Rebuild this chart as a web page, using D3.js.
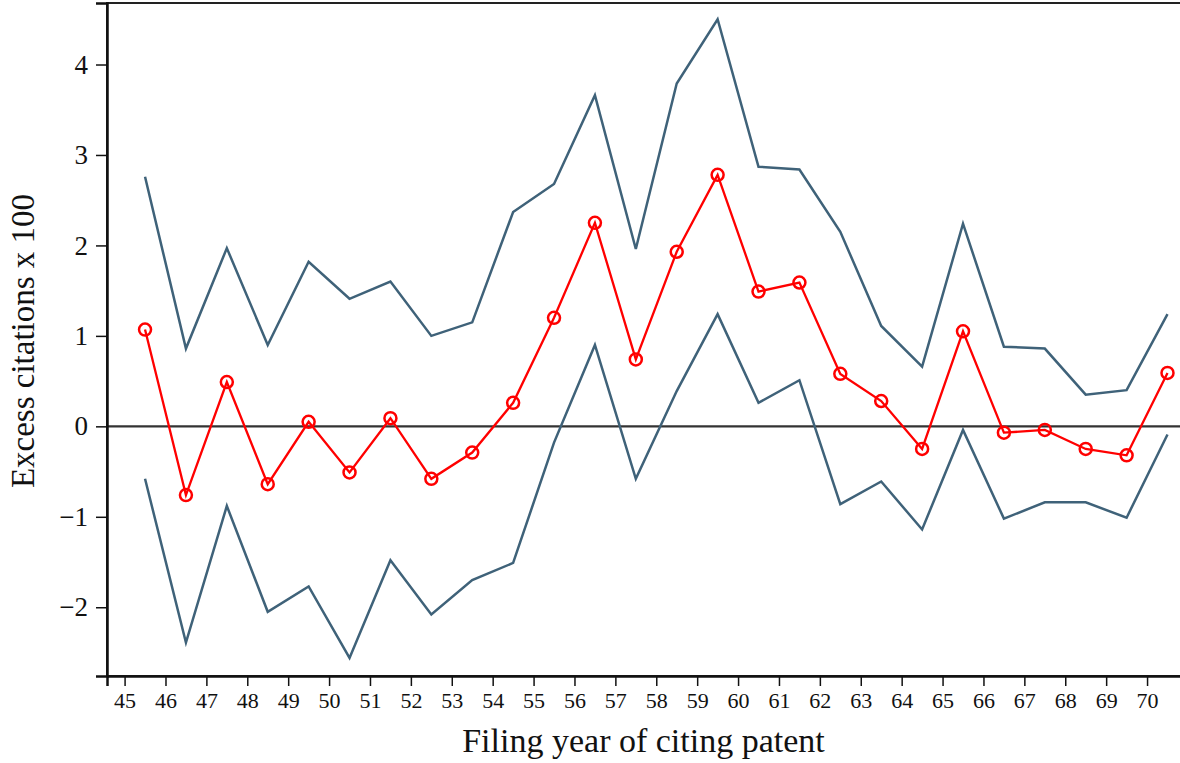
<!DOCTYPE html>
<html>
<head>
<meta charset="utf-8">
<script src="https://cdn.jsdelivr.net/npm/d3@7"></script>
<style>
  body { margin: 0; background: #fff; }
  svg text { font-family: "Liberation Serif", "DejaVu Serif", serif; fill: #111; }
</style>
</head>
<body>
<svg id="chart" width="1180" height="763"></svg>
<script>
const years = [45.5,46.5,47.5,48.5,49.5,50.5,51.5,52.5,53.5,54.5,55.5,56.5,57.5,58.5,59.5,60.5,61.5,62.5,63.5,64.5,65.5,66.5,67.5,68.5,69.5,70.5];
const estimate = [1.07,-0.76,0.49,-0.64,0.05,-0.51,0.09,-0.58,-0.29,0.26,1.20,2.25,0.74,1.93,2.78,1.49,1.59,0.58,0.28,-0.25,1.05,-0.07,-0.04,-0.25,-0.32,0.59];
const upper = [2.76,0.86,1.97,0.90,1.82,1.41,1.60,1.00,1.15,2.37,2.68,3.66,1.96,3.79,4.50,2.87,2.84,2.15,1.11,0.66,2.24,0.88,0.86,0.35,0.40,1.24];
const lower = [-0.58,-2.39,-0.88,-2.05,-1.77,-2.56,-1.48,-2.08,-1.70,-1.51,-0.18,0.90,-0.58,0.39,1.24,0.26,0.51,-0.86,-0.61,-1.14,-0.04,-1.02,-0.84,-0.84,-1.01,-0.09];
const xTicks = d3.range(45, 71);
const yTicks = [-2,-1,0,1,2,3,4];

const svg = d3.select("#chart");
const L = 107, R = 1181, T = 3, B = 676;
const x = d3.scaleLinear().domain([44.57, 70.83]).range([L, R]);
const y = d3.scaleLinear().domain([-2.76, 4.68]).range([B, T]);

// frame
svg.append("rect").attr("x", L).attr("y", T).attr("width", R - L).attr("height", B - T)
  .attr("fill", "none").attr("stroke", "#222").attr("stroke-width", 2);

// zero line
svg.append("line").attr("x1", L).attr("x2", R).attr("y1", y(0)).attr("y2", y(0))
  .attr("stroke", "#333").attr("stroke-width", 2.3);

// axes
const xAxis = svg.append("g").attr("transform", `translate(0,${B})`)
  .call(d3.axisBottom(x).tickValues(xTicks).tickFormat(d3.format("d")).tickSize(10).tickPadding(6));
xAxis.select(".domain").attr("stroke", "#111").attr("stroke-width", 2.5);
xAxis.selectAll(".tick line").attr("stroke", "#111").attr("stroke-width", 1.5);
xAxis.selectAll(".tick text").attr("font-size", 22).attr("font-family", "Liberation Serif").attr("fill", "#111");

const yAxis = svg.append("g").attr("transform", `translate(${L},0)`)
  .call(d3.axisLeft(y).tickValues(yTicks).tickFormat(d => d < 0 ? "\u2212" + Math.abs(d) : String(d)).tickSize(11).tickPadding(8));
yAxis.select(".domain").attr("stroke", "#111").attr("stroke-width", 2.5);
yAxis.selectAll(".tick line").attr("stroke", "#111").attr("stroke-width", 1.5);
yAxis.selectAll(".tick text").attr("font-size", 27).attr("font-family", "Liberation Serif").attr("fill", "#111");

// bounds
const line = d3.line().x((d, i) => x(years[i])).y(d => y(d));
svg.append("path").datum(upper).attr("d", line).attr("fill", "none").attr("stroke", "#3f6279").attr("stroke-width", 2.5);
svg.append("path").datum(lower).attr("d", line).attr("fill", "none").attr("stroke", "#3f6279").attr("stroke-width", 2.5);

// estimate
svg.append("path").datum(estimate).attr("d", line).attr("fill", "none").attr("stroke", "#ff0000").attr("stroke-width", 2.3);
svg.selectAll("circle.pt").data(estimate).enter().append("circle")
  .attr("class", "pt").attr("cx", (d, i) => x(years[i])).attr("cy", d => y(d)).attr("r", 6)
  .attr("fill", "none").attr("stroke", "#ff0000").attr("stroke-width", 2.5);

// titles
svg.append("text").attr("x", (L + 1180) / 2).attr("y", 752).attr("text-anchor", "middle")
  .attr("font-size", 34).text("Filing year of citing patent");
svg.append("text").attr("transform", `translate(34,341) rotate(-90)`).attr("text-anchor", "middle")
  .attr("font-size", 33).text("Excess citations x 100");
</script>
</body>
</html>
